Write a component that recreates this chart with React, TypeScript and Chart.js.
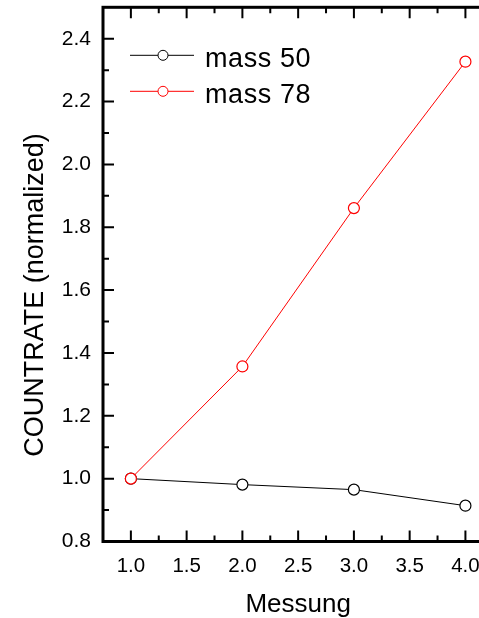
import { useEffect, useRef } from "react";
import { Chart, registerables } from "chart.js";

Chart.register(...registerables);

// Measurement index (x) and normalized count rates (y)
const MEASUREMENTS = [1, 2, 3, 4];
const MASS_50 = [1.0, 0.981, 0.965, 0.914];
const MASS_78 = [1.0, 1.357, 1.861, 2.327];
const SERIES_LABELS = ["mass 50", "mass 78"];
const SERIES_COLORS = ["#000000", "#ff0000"];

// Axis ranges and tick marks
const X_RANGE = [0.75, 4.25];
const Y_RANGE = [0.8, 2.5];
const X_TICKS = [1.0, 1.5, 2.0, 2.5, 3.0, 3.5, 4.0];
const X_MINOR = [1.25, 1.75, 2.25, 2.75, 3.25, 3.75];
const Y_TICKS = [0.8, 1.0, 1.2, 1.4, 1.6, 1.8, 2.0, 2.2, 2.4];
const Y_MINOR = [0.9, 1.1, 1.3, 1.5, 1.7, 1.9, 2.1, 2.3];

const X_TITLE = "Messung";
const Y_TITLE = "COUNTRATE (normalized)";

const FONT = "'Liberation Sans', Arial, Helvetica, sans-serif";

const toPoints = (ys: number[]) => MEASUREMENTS.map((x, i) => ({ x, y: ys[i] }));

// Frame with inward tick marks, axis titles and the in-plot legend
const framePlugin = {
  id: "frame",
  afterDatasetsDraw(chart: any) {
    const { ctx, chartArea } = chart;
    const xs = chart.scales.x;
    const ys = chart.scales.y;
    const { left, right, top, bottom } = chartArea;
    const MAJOR = 11;
    const MINOR = 6;

    ctx.save();
    ctx.strokeStyle = "#000";
    ctx.lineCap = "butt";

    // ticks
    ctx.lineWidth = 2;
    ctx.beginPath();
    const xTick = (v: number, len: number) => {
      const px = xs.getPixelForValue(v);
      ctx.moveTo(px, bottom);
      ctx.lineTo(px, bottom - len);
      ctx.moveTo(px, top);
      ctx.lineTo(px, top + len);
    };
    X_TICKS.forEach((v) => xTick(v, MAJOR));
    X_MINOR.forEach((v) => xTick(v, MINOR));
    const yTick = (v: number, len: number) => {
      const py = ys.getPixelForValue(v);
      ctx.moveTo(left, py);
      ctx.lineTo(left + len, py);
      ctx.moveTo(right, py);
      ctx.lineTo(right - len, py);
    };
    Y_TICKS.forEach((v) => yTick(v, MAJOR));
    Y_MINOR.forEach((v) => yTick(v, MINOR));
    ctx.stroke();

    // frame
    ctx.lineWidth = 3;
    ctx.strokeRect(left, top, right - left, bottom - top);

    // axis titles
    ctx.fillStyle = "#000";
    ctx.font = `26px ${FONT}`;
    ctx.textAlign = "center";
    ctx.textBaseline = "alphabetic";
    ctx.fillText(X_TITLE, (left + right) / 2, 612);

    ctx.save();
    ctx.translate(43, 295);
    ctx.rotate(-Math.PI / 2);
    ctx.font = `27px ${FONT}`;
    ctx.fillText(Y_TITLE, 0, 0);
    ctx.restore();

    // legend
    const lx = left + 27;
    const rows = [top + 48, top + 84];
    chart.data.datasets.forEach((ds: any, i: number) => {
      const y = rows[i];
      ctx.strokeStyle = ds.borderColor;
      ctx.lineWidth = 1;
      ctx.beginPath();
      ctx.moveTo(lx, y);
      ctx.lineTo(lx + 64, y);
      ctx.stroke();
      ctx.beginPath();
      ctx.arc(lx + 33, y, 5, 0, Math.PI * 2);
      ctx.fillStyle = "#fff";
      ctx.fill();
      ctx.stroke();
      ctx.fillStyle = "#000";
      ctx.font = `27px ${FONT}`;
      (ctx as any).letterSpacing = "0.6px";
      ctx.textAlign = "left";
      ctx.textBaseline = "alphabetic";
      ctx.fillText(ds.label, lx + 75, y + 12);
      (ctx as any).letterSpacing = "0px";
    });

    ctx.restore();
  },
};

export default function App() {
  const canvasRef = useRef<HTMLCanvasElement | null>(null);

  useEffect(() => {
    const canvas = canvasRef.current;
    if (!canvas) return;

    const chart = new Chart(canvas, {
      type: "line",
      data: {
        datasets: [MASS_50, MASS_78].map((vals, i) => ({
          label: SERIES_LABELS[i],
          data: toPoints(vals),
          borderColor: SERIES_COLORS[i],
          backgroundColor: "#ffffff",
          pointBackgroundColor: "#ffffff",
          pointBorderColor: SERIES_COLORS[i],
          borderWidth: 1,
          pointRadius: 5.5,
          pointBorderWidth: 1.2,
          tension: 0,
          order: 1 - i,
        })),
      },
      options: {
        animation: false,
        responsive: false,
        devicePixelRatio: 1,
        layout: { padding: { left: 0, top: 7.3, right: 5, bottom: 0 } },
        plugins: {
          legend: { display: false },
          tooltip: { enabled: false },
        },
        scales: {
          x: {
            type: "linear",
            min: X_RANGE[0],
            max: X_RANGE[1],
            grid: { display: false, drawTicks: false },
            border: { display: false },
            afterBuildTicks: (scale: any) => {
              scale.ticks = X_TICKS.map((value) => ({ value }));
            },
            afterFit: (scale: any) => {
              scale.height = 618 - 541.5;
              scale.paddingLeft = 0;
              scale.paddingRight = 0;
            },
            ticks: {
              padding: 12.5,
              color: "#000",
              font: { family: FONT, size: 20.5 },
              callback: (v: any) => Number(v).toFixed(1),
              maxRotation: 0,
              autoSkip: false,
            },
          },
          y: {
            type: "linear",
            min: Y_RANGE[0],
            max: Y_RANGE[1],
            grid: { display: false, drawTicks: false },
            border: { display: false },
            afterBuildTicks: (scale: any) => {
              scale.ticks = Y_TICKS.map((value) => ({ value }));
            },
            afterFit: (scale: any) => {
              scale.width = 103;
              scale.paddingTop = 0;
              scale.paddingBottom = 0;
            },
            ticks: {
              padding: 12,
              color: "#000",
              font: { family: FONT, size: 21 },
              callback: (v: any) => Number(v).toFixed(1),
              autoSkip: false,
            },
          },
        },
      },
      plugins: [framePlugin],
    });

    return () => chart.destroy();
  }, []);

  return (
    <div
      style={{
        position: "fixed",
        left: 0,
        top: 0,
        width: 479,
        height: 618,
        overflow: "hidden",
        background: "#fff",
      }}
    >
      <canvas ref={canvasRef} width={500} height={618} style={{ display: "block" }} />
    </div>
  );
}
